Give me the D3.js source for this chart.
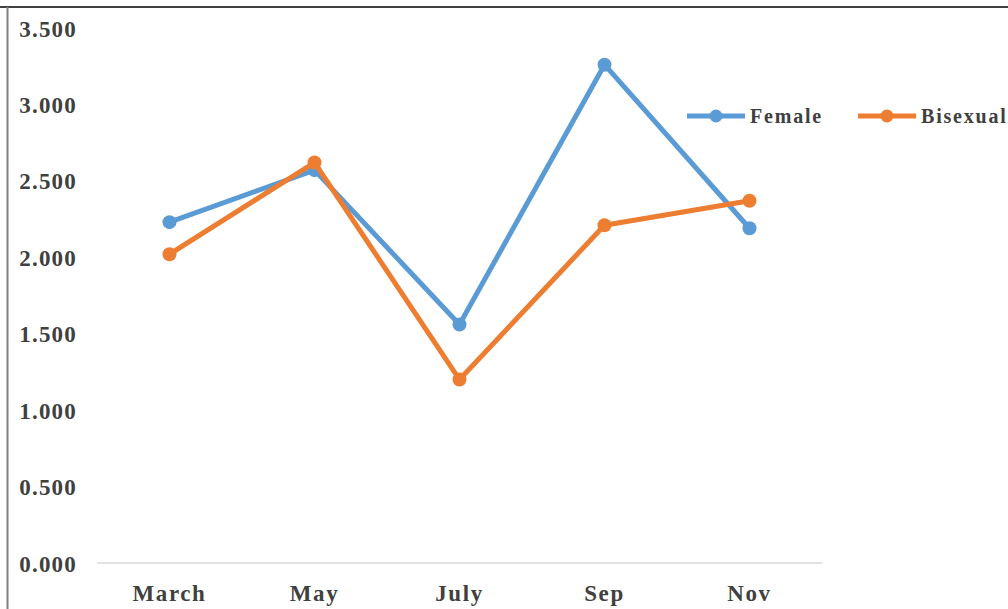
<!DOCTYPE html>
<html>
<head>
<meta charset="utf-8">
<script src="https://cdn.jsdelivr.net/npm/d3@7"></script>
<style>
  html, body { margin: 0; padding: 0; background: #fff; }
  svg { display: block; }
  text { font-family: "Liberation Serif", "Times New Roman", serif; font-weight: bold; fill: #404040; }
</style>
</head>
<body>
<svg id="chart" width="1008" height="609"></svg>
<script>
// Months on the x axis
const months = ["March", "May", "July", "Sep", "Nov"];
// Series values
const female = [2.23, 2.57, 1.56, 3.26, 2.19];
const bisexual = [2.02, 2.62, 1.20, 2.21, 2.37];
// Y axis tick values
const yTicks = [0, 0.5, 1.0, 1.5, 2.0, 2.5, 3.0, 3.5];

const seriesList = [
  { name: "Female", values: female, color: "#5B9BD5" },
  { name: "Bisexual", values: bisexual, color: "#ED7D31" }
];

const svg = d3.select("#chart");
const W = 1008, H = 609;

// frame
svg.append("line").attr("x1", 0).attr("x2", W).attr("y1", 7).attr("y2", 7)
  .attr("stroke", "#000").attr("stroke-width", 1.5);
svg.append("line").attr("x1", 7.5).attr("x2", 7.5).attr("y1", 7).attr("y2", H)
  .attr("stroke", "#808080").attr("stroke-width", 2);

const plot = { left: 97, right: 822, top: 28, bottom: 563 };

const x = d3.scaleBand().domain(months).range([plot.left, plot.right]);
const y = d3.scaleLinear().domain([0, 3.5]).range([plot.bottom, plot.top]);

// baseline
svg.append("line")
  .attr("x1", plot.left).attr("x2", plot.right)
  .attr("y1", y(0)).attr("y2", y(0))
  .attr("stroke", "#d9d9d9").attr("stroke-width", 1.5);

// y tick labels
const yAxis = d3.axisLeft(y).tickValues(yTicks).tickFormat(d3.format(".3f")).tickSize(0).tickPadding(0);
const gy = svg.append("g").attr("transform", `translate(77,0)`).call(yAxis);
gy.select(".domain").remove();
gy.selectAll("text").attr("font-size", 23).attr("letter-spacing", 1.2)
  .style("font-family", "Liberation Serif, serif")
  .attr("font-weight", "bold").attr("fill", "#404040").attr("dy", "0.35em");

// x tick labels
const xAxis = d3.axisBottom(x).tickSize(0).tickPadding(0);
const gx = svg.append("g").attr("transform", `translate(0,${y(0) + 30})`).call(xAxis);
gx.select(".domain").remove();
gx.selectAll("text").attr("font-size", 23).attr("letter-spacing", 1.6)
  .style("font-family", "Liberation Serif, serif")
  .attr("font-weight", "bold").attr("fill", "#404040").attr("dy", "0.35em");

const cx = m => x(m) + x.bandwidth() / 2;
const line = d3.line().x((d, i) => cx(months[i])).y(d => y(d));

seriesList.forEach(s => {
  const g = svg.append("g");
  g.append("path").datum(s.values).attr("d", line)
    .attr("fill", "none").attr("stroke", s.color).attr("stroke-width", 5)
    .attr("stroke-linejoin", "round");
  g.selectAll("circle").data(s.values).join("circle")
    .attr("cx", (d, i) => cx(months[i])).attr("cy", d => y(d)).attr("r", 7)
    .attr("fill", s.color);
});

// legend
const legendItems = [
  { x0: 687, ty: 116 },
  { x0: 858, ty: 116 }
];
seriesList.forEach((s, i) => {
  const lx = legendItems[i].x0, ly = legendItems[i].ty;
  const g = svg.append("g");
  g.append("line").attr("x1", lx).attr("x2", lx + 58).attr("y1", ly).attr("y2", ly)
    .attr("stroke", s.color).attr("stroke-width", 5);
  g.append("circle").attr("cx", lx + 29).attr("cy", ly).attr("r", 6.5).attr("fill", s.color);
  g.append("text").attr("x", lx + 63).attr("y", ly).attr("dy", "0.35em")
    .attr("font-size", 20).attr("letter-spacing", 1.8).text(s.name);
});
</script>
</body>
</html>
